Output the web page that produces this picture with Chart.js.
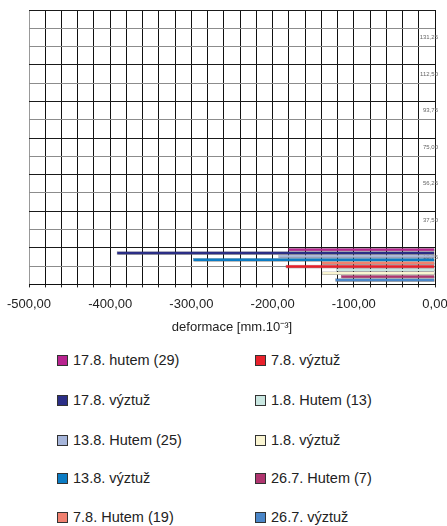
<!DOCTYPE html>
<html>
<head>
<meta charset="utf-8">
<script src="https://cdn.jsdelivr.net/npm/chart.js@4/dist/chart.umd.min.js"></script>
<style>
  body { margin: 0; background: #fff; width: 447px; height: 526px; overflow: hidden; position: relative; font-family: "Liberation Sans", Arial, sans-serif; }
  #wrap { position: absolute; left: 0; top: 0; width: 447px; height: 340px; }
  #legend { position: absolute; left: 0; top: 340px; width: 447px; }
  .item { position: absolute; display: flex; align-items: center; font-size: 14.5px; color: #222; white-space: pre; }
  .box { width: 9px; height: 9px; border: 1px solid #333; margin-right: 5px; }
</style>
</head>
<body>
<div id="wrap"><canvas id="deformChart"></canvas></div>
<div id="legend"></div>
<script>
// seven slots on the bar axis, the measured bars sit in the bottom one
const slots = ['', '', '', '', '', '', 'deformace'];

const seriesNames = [
    '17.8. hutem (29)', '17.8. výztuž', '13.8. Hutem (25)', '13.8. výztuž', '7.8. Hutem (19)',
    '7.8. výztuž', '1.8. Hutem (13)', '1.8. výztuž', '26.7. Hutem (7)', '26.7. výztuž'
];
const seriesValues = [-181, -392, -193, -298, -140, -184, -122, -139, -116, -123];
const seriesColors = [
    '#b8238f', '#2b2e86', '#a6b5da', '#0b7cc4', '#f0806f',
    '#e8212b', '#c9e7e1', '#faf5d2', '#b0356f', '#4a86c8'
];

const xTicks = [-500, -400, -300, -200, -100, 0];
const rightTicks = [18.75, 37.5, 56.25, 75, 93.75, 112.5, 131.25];

function czNum(v) {
    return v.toFixed(2).replace('.', ',');
}

const datasets = seriesNames.map((name, i) => ({
    label: name,
    data: slots.map((s, j) => j === slots.length - 1 ? seriesValues[i] : null),
    backgroundColor: seriesColors[i],
    borderColor: 'rgba(40,40,40,0.6)',
    borderWidth: 0.5,
    borderSkipped: false,
    categoryPercentage: 0.86,
    barPercentage: 1
}));

// small grey drop shadow under the bars
const barShadow = {
    id: 'barShadow',
    beforeDatasetsDraw(chart) {
        const ctx = chart.ctx;
        ctx.save();
        ctx.shadowColor = 'rgba(110,110,110,0.6)';
        ctx.shadowOffsetX = 1;
        ctx.shadowOffsetY = 1;
        ctx.shadowBlur = 0;
    },
    afterDatasetsDraw(chart) {
        chart.ctx.restore();
    }
};

const ctx = document.getElementById('deformChart').getContext('2d');
const deformChart = new Chart(ctx, {
    type: 'bar',
    data: { labels: slots, datasets: datasets },
    plugins: [barShadow],
    options: {
        indexAxis: 'y',
        responsive: true,
        maintainAspectRatio: false,
        animation: false,
        layout: { padding: { top: 10, left: 0, right: 0, bottom: 6 } },
        plugins: {
            legend: { display: false },
            tooltip: { enabled: false }
        },
        scales: {
            x: {
                type: 'linear',
                min: -500,
                max: 0,
                // fixed side room for the end labels
                afterFit: scale => { scale.paddingLeft = 29; scale.paddingRight = 12; },
                grid: {
                    color: c => c.tick && c.tick.value === -500 ? '#999' : '#111',
                    tickLength: 3,
                    tickColor: '#222'
                },
                border: { color: '#111' },
                ticks: {
                    stepSize: 20,
                    autoSkip: false,
                    maxRotation: 0,
                    padding: 9,
                    color: '#222',
                    font: { family: 'Liberation Sans', size: 13 },
                    callback: v => xTicks.includes(v) ? czNum(v) : ''
                },
                title: {
                    display: true,
                    text: 'deformace [mm.10⁻³]',
                    color: '#222',
                    font: { family: 'Liberation Sans', size: 13, lineHeight: 1 },
                    padding: { top: 0, bottom: 0 }
                }
            },
            y: {
                type: 'category',
                display: false,
                grid: { display: false }
            },
            y2: {
                type: 'linear',
                position: 'right',
                min: 9.375,
                max: 140.625,
                // labels sit inside the plot, so the axis takes no width
                afterFit: scale => { scale.width = 0; },
                grid: {
                    color: c => {
                        const v = c.tick && c.tick.value;
                        return (rightTicks.includes(v) || v === 140.625) ? '#8c8c8c' : '#1a1a1a';
                    },
                    drawTicks: false
                },
                border: { color: '#111' },
                ticks: {
                    stepSize: 9.375,
                    mirror: true,
                    padding: 3,
                    color: '#666',
                    font: { family: 'Liberation Sans', size: 6 },
                    callback: v => rightTicks.includes(v) ? czNum(v) : ''
                }
            }
        }
    }
});

// two-column legend, filled column by column
const legend = document.getElementById('legend');
const rowTops = [12, 52, 92, 130, 169];
seriesNames.forEach((name, i) => {
    const col = Math.floor(i / 5);
    const row = i % 5;
    const item = document.createElement('div');
    item.className = 'item';
    item.style.left = (col === 0 ? 57 : 255) + 'px';
    item.style.top = rowTops[row] + 'px';
    const box = document.createElement('span');
    box.className = 'box';
    box.style.background = seriesColors[i];
    const txt = document.createElement('span');
    txt.textContent = name;
    item.appendChild(box);
    item.appendChild(txt);
    legend.appendChild(item);
});
</script>
</body>
</html>
